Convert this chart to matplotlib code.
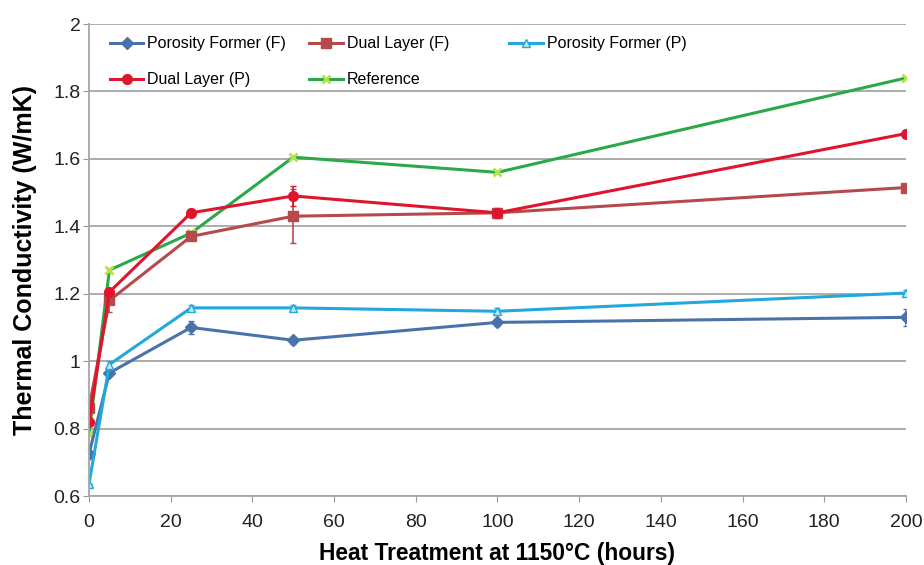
import matplotlib.pyplot as plt
import numpy as np

plt.rcParams['font.family'] = ['Liberation Sans', 'DejaVu Sans']

# Heat treatment time (hours)
hours = [0, 5, 25, 50, 100, 200]

# Thermal conductivity (W/mK)
pf_f = [0.725, 0.965, 1.10, 1.062, 1.115, 1.13]
pf_f_err = [0.0, 0.01, 0.02, 0.01, 0.01, 0.025]
dl_f = [0.86, 1.18, 1.37, 1.43, 1.44, 1.515]
dl_f_err = [0.0, 0.035, 0.01, 0.08, 0.01, 0.01]
pf_p = [0.635, 0.99, 1.158, 1.158, 1.148, 1.202]
pf_p_err = [0.0, 0.01, 0.01, 0.01, 0.01, 0.01]
dl_p = [0.82, 1.205, 1.44, 1.49, 1.44, 1.675]
dl_p_err = [0.0, 0.01, 0.01, 0.03, 0.015, 0.01]
ref = [0.785, 1.27, 1.38, 1.605, 1.56, 1.84]

fig = plt.figure(figsize=(9.24, 5.65), dpi=100)
ax = fig.add_axes([0.0963, 0.1221, 0.8842, 0.8354])

e1 = ax.errorbar(hours, pf_f, yerr=pf_f_err, color='#4a72aa', marker='D', markersize=6,
                 lw=2.2, capsize=2, elinewidth=1.2)
e2 = ax.errorbar(hours, dl_f, yerr=dl_f_err, color='#b5494b', marker='s', markersize=7,
                 lw=2.2, capsize=2, elinewidth=1.2)
e3 = ax.errorbar(hours, pf_p, yerr=pf_p_err, color='#23a8dc', marker='^', markersize=6,
                 mfc='#bfe9f8', lw=2.2, capsize=2, elinewidth=1.2)
e4 = ax.errorbar(hours, dl_p, yerr=dl_p_err, color='#e0142c', marker='o', markersize=7,
                 lw=2.2, capsize=2, elinewidth=1.2)
h5, = ax.plot(hours, ref, color='#2aa84a', marker='x', markersize=6, mec='#b8e04a',
              mew=2, lw=2.2, label='Reference')

h1 = e1[0]; h1.set_label('Porosity Former (F)')
h2 = e2[0]; h2.set_label('Dual Layer (F)')
h3 = e3[0]; h3.set_label('Porosity Former (P)')
h4 = e4[0]; h4.set_label('Dual Layer (P)')

ax.set_xlim(0, 200)
ax.set_ylim(0.6, 2.0)
ax.set_xticks(np.arange(0, 201, 20))
ax.set_yticks([0.6, 0.8, 1.0, 1.2, 1.4, 1.6, 1.8, 2.0])
ax.set_yticklabels(['0.6', '0.8', '1', '1.2', '1.4', '1.6', '1.8', '2'])
ax.tick_params(labelsize=14, colors='#222222', length=4)
ax.tick_params(axis='both', color='#999999')
ax.tick_params(axis='y', pad=2)
ax.tick_params(axis='x', pad=9)

ax.yaxis.grid(True, color='#a6a6a6', lw=1.3)
ax.set_axisbelow(True)
for s in ['top', 'right']:
    ax.spines[s].set_visible(False)
for s in ['left', 'bottom']:
    ax.spines[s].set_color('#a6a6a6')
    ax.spines[s].set_linewidth(1.3)

ax.set_xlabel('Heat Treatment at 1150°C (hours)', fontsize=16.4, fontweight='bold', labelpad=8)
ax.set_ylabel('Thermal Conductivity (W/mK)', fontsize=18, fontweight='bold')
ax.yaxis.set_label_coords(-0.064, 0.5)

# legend: three single columns placed like the original
cols = [([h1, h4], 0.008), ([h2, h5], 0.252), ([h3], 0.497)]
legs = []
for hs, x0 in cols:
    leg = ax.legend(hs, [h.get_label() for h in hs], loc='upper left',
                    bbox_to_anchor=(x0, 1.004), frameon=False, fontsize=11.5,
                    handlelength=2.1, handletextpad=0.25, labelspacing=1.3)
    legs.append(leg)
for leg in legs[:-1]:
    ax.add_artist(leg)

fig.savefig('out.png', dpi=100)
